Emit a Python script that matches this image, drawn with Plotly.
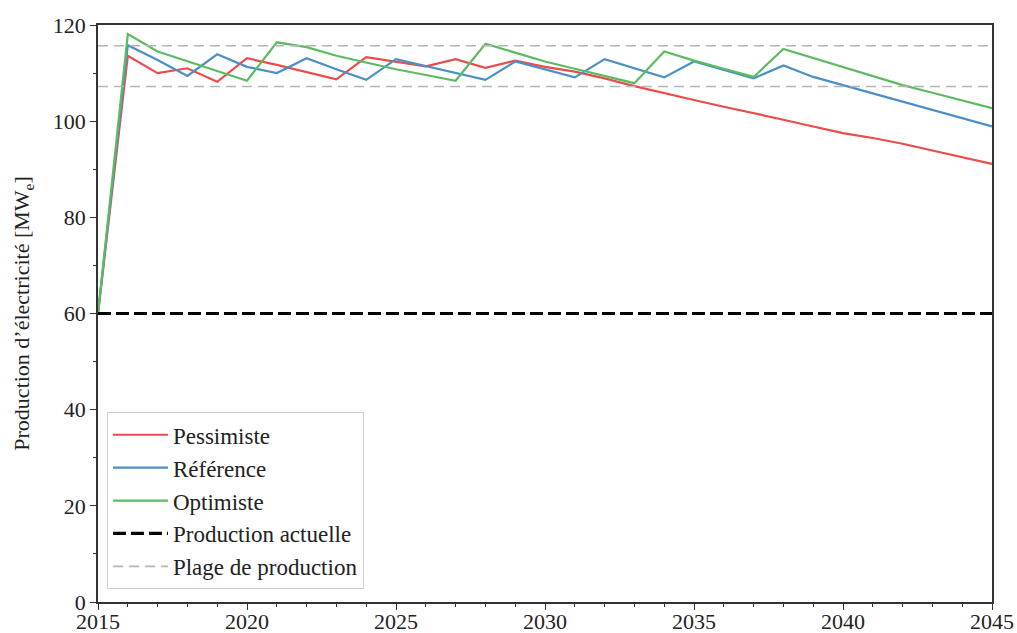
import plotly.graph_objects as go

years = list(range(2015, 2046))

pessimiste = [60, 113.6, 110.0, 111.0, 108.2, 113.1, 111.7, 110.2, 108.7, 113.3,
              112.3, 111.4, 112.9, 111.1, 112.6, 111.3, 110.3, 108.9, 107.3, 105.8,
              104.4, 103.0, 101.7, 100.3, 98.9, 97.5, 96.5, 95.3, 93.9, 92.5, 91.1]

reference = [60, 115.8, 112.7, 109.4, 113.9, 111.3, 110.0, 113.1, 110.8, 108.6,
             112.9, 111.5, 110.0, 108.6, 112.4, 110.8, 109.1, 112.9, 111.0, 109.1,
             112.4, 110.6, 108.9, 111.6, 109.2, 107.5, 105.8, 104.1, 102.3, 100.6, 98.9]

optimiste = [60, 118.1, 114.5, 112.5, 110.4, 108.4, 116.4, 115.4, 113.6, 112.2,
             110.8, 109.6, 108.4, 116.1, 114.2, 112.4, 110.9, 109.4, 107.9, 114.5,
             112.6, 110.9, 109.2, 115.0, 113.1, 111.3, 109.4, 107.5, 105.9, 104.3, 102.7]

production_actuelle = 60
plage = [107.2, 115.7]

x_range = [2015, 2045]
y_range = [0, 120]

font_family = "Liberation Serif, Times New Roman, serif"

fig = go.Figure()

fig.add_trace(go.Scatter(x=years, y=pessimiste, mode="lines", name="Pessimiste",
                         line=dict(color="#ec4b4b", width=2.2)))
fig.add_trace(go.Scatter(x=years, y=reference, mode="lines", name="Référence",
                         line=dict(color="#4a8fc8", width=2.2)))
fig.add_trace(go.Scatter(x=years, y=optimiste, mode="lines", name="Optimiste",
                         line=dict(color="#5cbb62", width=2.2)))
fig.add_trace(go.Scatter(x=x_range, y=[production_actuelle] * 2, mode="lines",
                         name="Production actuelle",
                         line=dict(color="black", width=3.2, dash="13px,5px")))
fig.add_trace(go.Scatter(x=[x_range[0], x_range[1], None, x_range[0], x_range[1]],
                         y=[plage[1], plage[1], None, plage[0], plage[0]],
                         mode="lines", name="Plage de production",
                         line=dict(color="#b5b5b5", width=1.6, dash="10px,6px")))

axis_common = dict(
    showgrid=False, zeroline=False, showline=True, linecolor="#333333", linewidth=1.5,
    mirror=True, ticks="outside", ticklen=6, tickwidth=1.2, tickcolor="#333333",
    tickfont=dict(family=font_family, size=22, color="#222222"),
    automargin=False,
)

fig.update_xaxes(range=x_range, dtick=5, tick0=2015, ticklabelstandoff=-7,
                 minor=dict(dtick=1, ticks="outside", ticklen=3, tickcolor="#333333"),
                 **axis_common)
fig.update_yaxes(range=y_range, dtick=20, tick0=0,
                 minor=dict(dtick=10, ticks="outside", ticklen=3, tickcolor="#333333"),
                 title=dict(text="Production d’électricité [MW<sub>e</sub>]",
                            font=dict(family=font_family, size=22, color="#222222"),
                            standoff=17),
                 **axis_common)

fig.update_layout(
    width=1017, height=633,
    margin=dict(l=98, r=25, t=25, b=31),
    plot_bgcolor="white", paper_bgcolor="white",
    font=dict(family=font_family, color="#222222"),
    legend=dict(x=0.01, y=0.022, xanchor="left", yanchor="bottom",
                bgcolor="rgba(255,255,255,0.9)", bordercolor="#d0d0d0", borderwidth=1,
                font=dict(family=font_family, size=23, color="#222222"),
                itemwidth=55, tracegroupgap=0),
    showlegend=True,
)

fig.write_html(
    "out.html",
    config={"displayModeBar": False},
    post_script="document.body.style.margin='0';document.body.style.overflow='hidden';",
)
